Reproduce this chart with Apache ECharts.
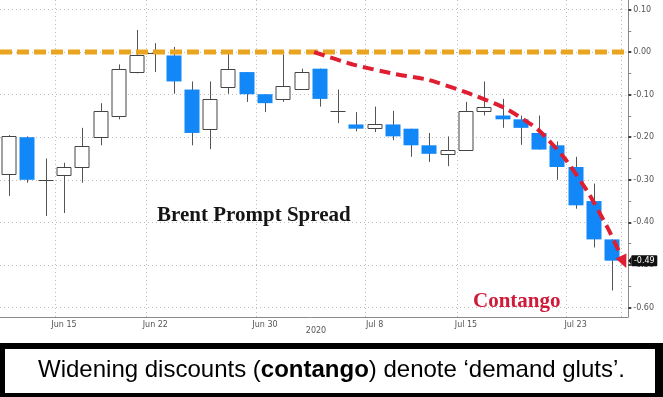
<!DOCTYPE html>
<html>
<head>
<meta charset="utf-8">
<script src="https://cdn.jsdelivr.net/npm/echarts@6/dist/echarts.min.js"></script>
<style>html,body{margin:0;padding:0;background:#fff}#c{width:663px;height:397px}</style>
</head>
<body>
<div id="c"></div>
<script>
// ---- data ----
const categories = ['Jun 10','Jun 11','Jun 12','Jun 15','Jun 16','Jun 17','Jun 18','Jun 19','Jun 22','Jun 23','Jun 24','Jun 25','Jun 26','Jun 29','Jun 30','Jul 1','Jul 2','Jul 3','Jul 6','Jul 7','Jul 8','Jul 9','Jul 10','Jul 13','Jul 14','Jul 15','Jul 16','Jul 17','Jul 20','Jul 21','Jul 22','Jul 23','Jul 24','Jul 27'];
const openValues  = [-0.288,-0.200,-0.300,-0.288,-0.270,-0.198,-0.150,-0.049,-0.002,-0.008,-0.088,-0.180,-0.081,-0.047,-0.099,-0.110,-0.088,-0.039,-0.138,-0.170,-0.180,-0.170,-0.180,-0.219,-0.239,-0.229,-0.138,-0.149,-0.158,-0.190,-0.219,-0.270,-0.350,-0.440];
const closeValues = [-0.198,-0.300,-0.300,-0.270,-0.220,-0.138,-0.040,-0.008,-0.002,-0.069,-0.190,-0.110,-0.039,-0.099,-0.120,-0.080,-0.047,-0.110,-0.138,-0.180,-0.170,-0.198,-0.219,-0.239,-0.229,-0.138,-0.129,-0.158,-0.178,-0.229,-0.270,-0.360,-0.440,-0.490];
const lowValues   = [-0.338,-0.307,-0.385,-0.378,-0.307,-0.219,-0.158,-0.050,-0.047,-0.098,-0.219,-0.228,-0.098,-0.117,-0.141,-0.117,-0.088,-0.128,-0.167,-0.186,-0.188,-0.207,-0.246,-0.258,-0.268,-0.229,-0.149,-0.178,-0.218,-0.229,-0.300,-0.368,-0.459,-0.560];
const highValues  = [-0.195,-0.198,-0.250,-0.260,-0.178,-0.120,-0.029,0.052,0.021,0.012,-0.069,-0.069,0.000,-0.047,-0.099,-0.005,-0.039,-0.039,-0.088,-0.141,-0.128,-0.138,-0.180,-0.190,-0.198,-0.117,-0.069,-0.110,-0.149,-0.149,-0.210,-0.246,-0.309,-0.440];
const shownDateLabels = ['Jun 15','Jun 22','Jun 30','Jul 8','Jul 15','Jul 23'];
const yearLabel = '2020';
const zeroLevel = 0.00;
// annotation path (category index, value) for the red "contango" arrow
const arrowIdx = [16.69, 18.88, 21.06, 22.91, 25.10, 27.11, 28.91, 30.39, 31.70, 32.79, 33.28, 33.77];
const arrowVal = [0.000, -0.030, -0.051, -0.065, -0.096, -0.131, -0.181, -0.249, -0.331, -0.416, -0.460, -0.507];
const titleText = 'Brent Prompt Spread';
const contangoText = 'Contango';

// ---- chart ----
const chart = echarts.init(document.getElementById('c'), null, {renderer: 'canvas'});
const GL = -2.2, GR = 663 - 621.3;
const isShown = (i) => shownDateLabels.indexOf(categories[i]) >= 0;
const BLUE = '#1287f7';

function renderItem(params, api) {
  const i = api.value(0), o = api.value(1), c = api.value(2), l = api.value(3), h = api.value(4);
  const x = Math.round(api.coord([i, o])[0]) + 0.5;
  const bw = Math.round(api.size([1, 0])[0] * 0.8);
  const yo = api.coord([i, o])[1], yc = api.coord([i, c])[1];
  const yl = api.coord([i, l])[1], yh = api.coord([i, h])[1];
  const kids = [{type: 'line', shape: {x1: x, y1: yh, x2: x, y2: yl}, style: {stroke: '#555', lineWidth: 1}}];
  const top = Math.min(yo, yc), bot = Math.max(yo, yc);
  const left = x - 0.5 - bw / 2;
  if (bot - top < 1) {
    kids.push({type: 'line', shape: {x1: left, y1: Math.round(top) + 0.5, x2: left + bw, y2: Math.round(top) + 0.5}, style: {stroke: '#444', lineWidth: 1}});
  } else if (c > o) {
    kids.push({type: 'rect', shape: {x: left + 0.5, y: Math.round(top) + 0.5, width: bw - 1, height: Math.max(1, Math.round(bot - top))}, style: {fill: '#fff', stroke: '#444', lineWidth: 1}});
  } else {
    kids.push({type: 'rect', shape: {x: left, y: top, width: bw, height: bot - top}, style: {fill: BLUE}});
  }
  return {type: 'group', children: kids};
}

const seriesData = categories.map((c, i) => [i, openValues[i], closeValues[i], lowValues[i], highValues[i]]);

chart.setOption({
  backgroundColor: '#fff',
  animation: false,
  grid: [
    {left: GL, right: GR, top: 0, height: 317},
    {left: GL, right: GR, top: 9.5, height: 298}
  ],
  xAxis: [
    {gridIndex: 0, type: 'category', data: categories, boundaryGap: true,
     axisLine: {lineStyle: {color: '#8a8a8a'}},
     axisTick: {interval: 0, alignWithLabel: true, length: 3, lineStyle: {color: '#8a8a8a'}},
     axisLabel: {interval: isShown, fontSize: 8, color: '#555', margin: 4, fontFamily: 'DejaVu Sans'},
     splitLine: {show: true, interval: isShown, lineStyle: {type: [1, 3], color: '#bdbdbd'}}},
    {gridIndex: 1, type: 'category', data: categories, boundaryGap: true, show: false}
  ],
  yAxis: [
    {gridIndex: 0, type: 'value', min: 0, max: 1, position: 'right', offset: 7,
     axisLine: {show: true, lineStyle: {color: '#8a8a8a'}}, axisTick: {show: false},
     axisLabel: {show: false}, splitLine: {show: false}},
    {gridIndex: 1, type: 'value', min: -0.6, max: 0.1, interval: 0.1, position: 'right', offset: 7,
     axisLine: {show: true, lineStyle: {color: '#8a8a8a'}},
     axisTick: {show: true, length: 3, lineStyle: {color: '#444', width: 2}},
     minorTick: {show: true, splitNumber: 2, length: 3, lineStyle: {color: '#888'}},
     axisLabel: {formatter: v => v.toFixed(2), fontSize: 8, color: '#555', margin: 5, fontFamily: 'DejaVu Sans'},
     splitLine: {show: true, lineStyle: {type: [1, 3], color: '#bdbdbd'}}}
  ],
  series: [{type: 'custom', xAxisIndex: 1, yAxisIndex: 1, renderItem: renderItem,
            data: seriesData, encode: {x: 0, y: [1, 2, 3, 4]}, z: 3}]
});

// ---- annotations placed via the chart's own scales ----
const last = categories.length - 1;
const pA = chart.convertToPixel({gridIndex: 1}, [0, 0]);
const pB = chart.convertToPixel({gridIndex: 1}, [last, -0.5]);
const P = (ix, v) => [pA[0] + (pB[0] - pA[0]) * ix / last, pA[1] + (pB[1] - pA[1]) * v / -0.5];
const axisX = pB[0] + (pB[0] - pA[0]) / last / 2 + 7;

const y0 = P(0, zeroLevel)[1];
const pts = arrowIdx.map((ix, k) => P(ix, arrowVal[k]));
const tip = pts[pts.length - 1], prev = pts[pts.length - 2];
let dx = tip[0] - prev[0], dy = tip[1] - prev[1];
const dl = Math.hypot(dx, dy); dx /= dl; dy /= dl;
const base = [tip[0] - dx * 13, tip[1] - dy * 13];
const nx = -dy, ny = dx;
const linePts = pts.slice(0, -1).concat([base]);
const yLast = P(last, closeValues[last])[1];
// horizontal dotted gridline extensions up to the axis line
const gridExt = [];
for (let v = -0.6; v <= 0.1001; v += 0.1) {
  const yy = Math.round(P(0, v)[1]) + 0.5;
  gridExt.push({type: 'line', z: 1, shape: {x1: pB[0] + 9, y1: yy, x2: axisX, y2: yy}, style: {stroke: '#bdbdbd', lineWidth: 1, lineDash: [1, 3]}});
}

chart.setOption({
  graphic: gridExt.concat([
    {type: 'line', z: 50, shape: {x1: pB[0], y1: 317.5, x2: axisX, y2: 317.5}, style: {stroke: '#8a8a8a', lineWidth: 1}},
    {type: 'line', z: 60, shape: {x1: 0, y1: y0, x2: axisX, y2: y0}, style: {stroke: '#E9A420', lineWidth: 5, lineDash: [12, 5]}},
    {type: 'polyline', z: 61, shape: {points: linePts, smooth: 0.2}, style: {stroke: '#E01E32', lineWidth: 4, lineDash: [11, 6], fill: null}},
    {type: 'polygon', z: 61, shape: {points: [tip, [base[0] + nx * 6, base[1] + ny * 6], [base[0] - nx * 6, base[1] - ny * 6]]}, style: {fill: '#E01E32'}},
    {type: 'polygon', z: 70, shape: {points: [[axisX, yLast], [axisX + 3, yLast - 4], [axisX + 3, yLast + 4]]}, style: {fill: '#111'}},
    {type: 'rect', z: 70, shape: {x: axisX + 3, y: yLast - 5.5, width: 26, height: 11, r: 1}, style: {fill: '#111'}},
    {type: 'text', z: 71, x: axisX + 16, y: yLast + 0.5, style: {text: closeValues[last].toFixed(2), fill: '#fff', fontSize: 8, fontFamily: 'DejaVu Sans', align: 'center', verticalAlign: 'middle'}},
    {type: 'text', z: 40, x: 316, y: 331, style: {text: yearLabel, fill: '#555', fontSize: 8, fontFamily: 'DejaVu Sans', align: 'center', verticalAlign: 'middle'}},
    {type: 'text', z: 40, x: 157, y: 215.5, style: {text: titleText, fill: '#151515', fontSize: 21, fontWeight: 'bold', fontFamily: 'Liberation Serif', align: 'left', verticalAlign: 'middle'}},
    {type: 'text', z: 40, x: 473, y: 301.5, style: {text: contangoText, fill: '#CF1A3A', fontSize: 21, fontWeight: 'bold', fontFamily: 'Liberation Serif', align: 'left', verticalAlign: 'middle'}},
    {type: 'rect', z: 80, shape: {x: 0, y: 343, width: 663, height: 54}, style: {fill: '#000'}},
    {type: 'rect', z: 81, shape: {x: 5, y: 349, width: 650, height: 44}, style: {fill: '#fff'}},
    {type: 'text', z: 82, x: 331.5, y: 370.5, style: {
      text: '{a|Widening discounts (}{b|contango}{a|) denote ‘demand gluts’.}',
      rich: {a: {fontSize: 24, fontFamily: 'Liberation Sans', fill: '#000'},
             b: {fontSize: 24, fontWeight: 'bold', fontFamily: 'Liberation Sans', fill: '#000'}},
      align: 'center', verticalAlign: 'middle'}}
  ])
});
</script>
</body>
</html>
